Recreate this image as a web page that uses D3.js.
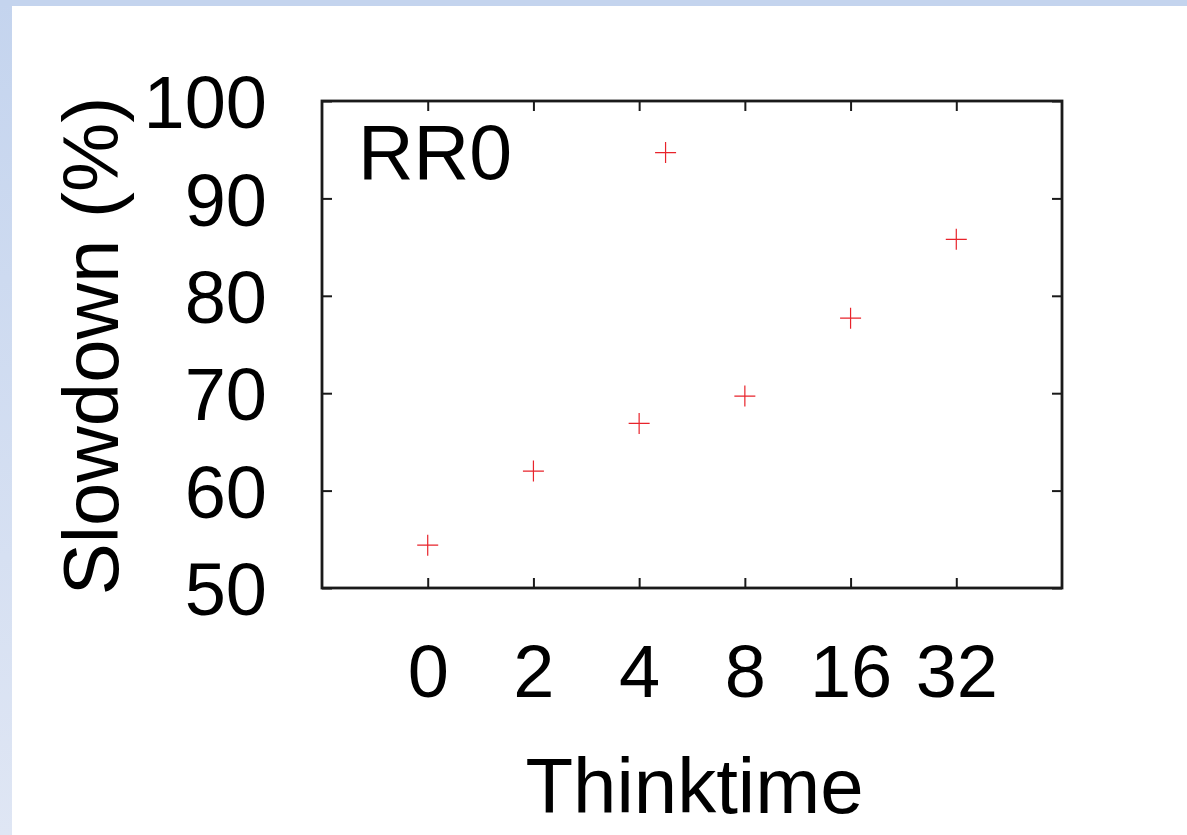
<!DOCTYPE html>
<html>
<head>
<meta charset="utf-8">
<script src="https://cdn.jsdelivr.net/npm/d3@7"></script>
<style>
  html, body { margin: 0; padding: 0; background: #fff; }
  svg { display: block; }
  text { font-family: "Liberation Sans", Arial, sans-serif; fill: #000; }
</style>
</head>
<body>
<svg id="chart" width="1187" height="835"></svg>
<script>
// ---- data ----
const categories = ["0", "2", "4", "8", "16", "32"];
const slowdown = [54.4, 62.0, 66.9, 69.7, 77.7, 85.8];
const extraPos = [2.25];
const extraVal = [94.7];
const yTicks = [50, 60, 70, 80, 90, 100];
const panelLabel = "RR0";
const xTitle = "Thinktime";
const yTitle = "Slowdown (%)";

// ---- layout ----
const W = 1187, H = 835;
const L = 322, R = 1062, T = 101, B = 588;
const svg = d3.select("#chart");

// background border
const defs = svg.append("defs");
const grad = defs.append("linearGradient").attr("id", "lg").attr("x1", 0).attr("y1", 0).attr("x2", 0).attr("y2", 1);
grad.append("stop").attr("offset", "0%").attr("stop-color", "#c4d4ee");
grad.append("stop").attr("offset", "100%").attr("stop-color", "#dfe6f4");
svg.append("rect").attr("x", 0).attr("y", 0).attr("width", W).attr("height", H).attr("fill", "url(#lg)");
svg.append("rect").attr("x", 0).attr("y", 0).attr("width", W).attr("height", 6).attr("fill", "#c4d4ee");
svg.append("rect").attr("x", 12).attr("y", 6).attr("width", W - 12).attr("height", H - 6).attr("fill", "#fff");

const x = d3.scaleLinear().domain([-1, categories.length]).range([L, R]);
const y = d3.scaleLinear().domain([50, 100]).range([B, T]);
const idx = categories.map((d, i) => i);

const fs = 74;
const tickLen = 10;

// axes (ticks inward on all four sides)
const axB = d3.axisBottom(x).tickValues(idx).tickFormat(i => categories[i]).tickSizeInner(-tickLen).tickSizeOuter(0);
const axT = d3.axisTop(x).tickValues(idx).tickFormat("").tickSizeInner(-tickLen).tickSizeOuter(0);
const axL = d3.axisLeft(y).tickValues(yTicks).tickSizeInner(-tickLen).tickSizeOuter(0);
const axR = d3.axisRight(y).tickValues(yTicks).tickFormat("").tickSizeInner(-tickLen).tickSizeOuter(0);

function style(g) {
  g.select(".domain").remove();
  g.selectAll(".tick line").attr("stroke", "#1a1a1a").attr("stroke-width", 2);
  g.selectAll(".tick text").style("font-size", fs + "px").style("font-family", '"Liberation Sans", Arial, sans-serif').attr("fill", "#000");
}

const gB = svg.append("g").attr("transform", `translate(0,${B})`).call(axB).call(style);
gB.selectAll(".tick text").attr("dy", null).attr("y", 109);

svg.append("g").attr("transform", `translate(0,${T})`).call(axT).call(style);

const gL = svg.append("g").attr("transform", `translate(${L},0)`).call(axL).call(style);
gL.selectAll(".tick text").attr("x", -55).attr("dy", "0.36em");

svg.append("g").attr("transform", `translate(${R},0)`).call(axR).call(style);

// frame
svg.append("rect").attr("x", L).attr("y", T).attr("width", R - L).attr("height", B - T)
  .attr("fill", "none").attr("stroke", "#1a1a1a").attr("stroke-width", 2.8);

// points (plus markers)
const pts = idx.map(i => ({ p: i, v: slowdown[i] }))
  .concat(extraPos.map((p, j) => ({ p: p, v: extraVal[j] })));
const arm = 10.5;
const mg = svg.append("g").attr("stroke", "#e8232b").attr("stroke-width", 1.2).attr("fill", "none");
mg.selectAll("path").data(pts).join("path")
  .attr("d", d => {
    const cx = x(d.p), cy = y(d.v);
    return `M${cx - arm},${cy}H${cx + arm}M${cx},${cy - arm}V${cy + arm}`;
  });

// panel label
svg.append("text").attr("x", 358).attr("y", 179).style("font-size", "77px").text(panelLabel);

// axis titles
svg.append("text").attr("x", (524 + 865) / 2).attr("y", 813).attr("text-anchor", "middle")
  .style("font-size", "78px").text(xTitle);
svg.append("text").attr("transform", `translate(118,346) rotate(-90)`).attr("text-anchor", "middle")
  .style("font-size", "78px").text(yTitle);
</script>
</body>
</html>
